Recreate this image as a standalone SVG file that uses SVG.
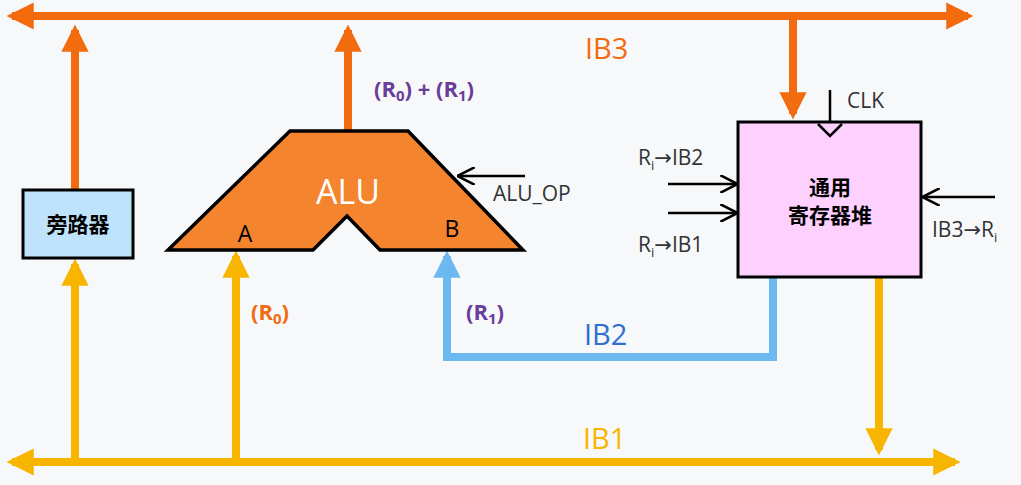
<svg xmlns="http://www.w3.org/2000/svg" width="1021" height="485" viewBox="0 0 1021 485">
<defs>
<marker id="ao" viewBox="0 0 10 10" refX="8" refY="5" markerWidth="3.4" markerHeight="3.4" orient="auto-start-reverse" markerUnits="strokeWidth"><path d="M0,0L10,5L0,10z" fill="#f26b0f"/></marker>
<marker id="ay" viewBox="0 0 10 10" refX="8" refY="5" markerWidth="3.4" markerHeight="3.4" orient="auto-start-reverse" markerUnits="strokeWidth"><path d="M0,0L10,5L0,10z" fill="#f7b500"/></marker>
<marker id="ab" viewBox="0 0 10 10" refX="8" refY="5" markerWidth="3.4" markerHeight="3.4" orient="auto" markerUnits="strokeWidth"><path d="M0,0L10,5L0,10z" fill="#6cb8f0"/></marker>
<marker id="ak" viewBox="0 0 10 10" refX="9" refY="5" markerWidth="7" markerHeight="7" orient="auto" markerUnits="strokeWidth"><path d="M0,0L10,5L0,10" fill="none" stroke="#000" stroke-width="1.5"/></marker>
</defs>
<style>
.o{stroke:#f26b0f;stroke-width:8;fill:none}
.y{stroke:#f7b500;stroke-width:8;fill:none}
.b{stroke:#6cb8f0;stroke-width:8;fill:none}
.k{stroke:#000;stroke-width:2.5;fill:none}
text{font-family:"Open Sans","Liberation Sans",sans-serif}
.bus{font-size:29px}
.lbl{font-size:21px;fill:#333}
.p{font-size:22px;font-weight:bold;fill:#6a3d9a}
.cn{font-family:"Noto Sans CJK SC",sans-serif;font-weight:bold;font-size:21px}
.ar{font-family:"DejaVu Sans",sans-serif}
</style>
<rect width="1021" height="485" fill="#f7f8fa"/>
<g id="connectors">
<line class="o" x1="12" y1="16" x2="968" y2="16" marker-start="url(#ao)" marker-end="url(#ao)"/>
<line class="y" x1="12" y1="462" x2="955" y2="462" marker-start="url(#ay)" marker-end="url(#ay)"/>
<line class="o" x1="75" y1="190" x2="75" y2="30" marker-end="url(#ao)"/>
<line class="y" x1="75" y1="462" x2="75" y2="264" marker-end="url(#ay)"/>
<line class="o" x1="348" y1="131" x2="348" y2="30" marker-end="url(#ao)"/>
<line class="y" x1="236" y1="462" x2="236" y2="256" marker-end="url(#ay)"/>
<polyline class="b" points="773,277 773,357 447,357 447,256" marker-end="url(#ab)"/>
<line class="o" x1="793" y1="16" x2="793" y2="114" marker-end="url(#ao)"/>
<line class="y" x1="879" y1="277" x2="879" y2="450" marker-end="url(#ay)"/>
<line class="k" x1="830" y1="90" x2="830" y2="124"/>
<line class="k" x1="668" y1="184" x2="736" y2="184" marker-end="url(#ak)"/>
<line class="k" x1="668" y1="213" x2="736" y2="213" marker-end="url(#ak)"/>
<line class="k" x1="995" y1="197" x2="924" y2="197" marker-end="url(#ak)"/>
<line class="k" x1="525" y1="176" x2="459" y2="176" marker-end="url(#ak)"/>
</g>
<g id="bypass">
<rect x="23" y="190" width="110" height="68" fill="#bfe3fb" stroke="#000" stroke-width="3"/>
<text class="cn" x="78" y="232" text-anchor="middle">旁路器</text>
</g>
<g id="alu">
<polygon points="290,131 408,131 523,250 380,250 347,216 313,250 168,250" fill="#f5842e" stroke="#000" stroke-width="3.5"/>
<text x="348" y="204" font-size="34" fill="#fff" text-anchor="middle">ALU</text>
<text x="245" y="242" font-size="23" text-anchor="middle">A</text>
<text x="452" y="237" font-size="23" text-anchor="middle">B</text>
</g>
<g id="regfile">
<rect x="738" y="122" width="183" height="155" fill="#fdd0fd" stroke="#000" stroke-width="3"/>
<path d="M818,124 L830,136 L842,124" fill="#fdd0fd" stroke="#000" stroke-width="2.5"/>
<text class="cn" x="830" y="195" text-anchor="middle">通用</text>
<text class="cn" x="830" y="223" text-anchor="middle">寄存器堆</text>
</g>
<g id="labels">
<text class="bus" x="585" y="59" fill="#f26b0f">IB3</text>
<text class="bus" x="583" y="449" fill="#f7b500">IB1</text>
<text class="bus" x="584" y="345" fill="#2f6fd0">IB2</text>
<text class="p" x="374" y="97">(R<tspan font-size="15" dy="4">0</tspan><tspan dy="-4">) + (R</tspan><tspan font-size="15" dy="4">1</tspan><tspan dy="-4">)</tspan></text>
<text class="p" x="251" y="320" style="fill:#f26b0f">(R<tspan font-size="15" dy="4">0</tspan><tspan dy="-4">)</tspan></text>
<text class="p" x="466" y="320">(R<tspan font-size="15" dy="4">1</tspan><tspan dy="-4">)</tspan></text>
<text class="lbl" x="493" y="201">ALU_OP</text>
<text class="lbl" x="847" y="108">CLK</text>
<text class="lbl" x="638" y="165">R<tspan font-size="13" dy="5">i</tspan><tspan class="ar" dy="-5">→</tspan>IB2</text>
<text class="lbl" x="638" y="252">R<tspan font-size="13" dy="5">i</tspan><tspan class="ar" dy="-5">→</tspan>IB1</text>
<text class="lbl" x="932" y="237">IB3<tspan class="ar">→</tspan>R<tspan font-size="13" dy="5">i</tspan></text>
</g>
</svg>
